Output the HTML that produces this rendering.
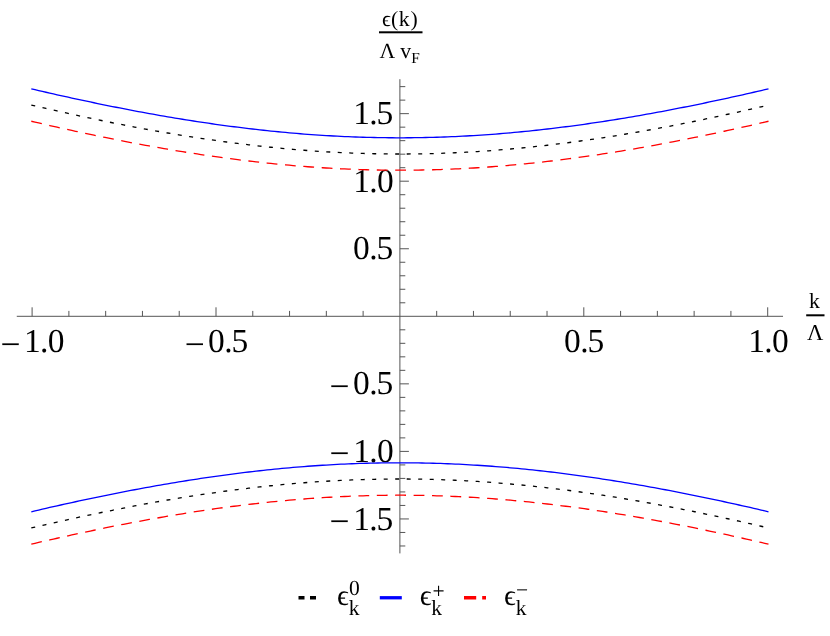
<!DOCTYPE html>
<html><head><meta charset="utf-8"><title>plot</title>
<style>
html,body{margin:0;padding:0;background:#fff;}
body{width:830px;height:636px;overflow:hidden;font-family:"Liberation Serif",serif;}
svg{display:block;will-change:transform;}
text{font-family:"Liberation Serif",serif;fill:#000;text-rendering:geometricPrecision;}
.tl{font-size:33.5px;}
.mn{font-size:35.5px;}
.lb{font-size:21.7px;}
.sc{font-size:15.4px;}
.lg{font-size:29px;}
.ls{font-size:21.5px;}
</style></head><body>
<svg width="830" height="636" viewBox="0 0 830 636">
<rect width="830" height="636" fill="#fff"/>

<g stroke="#555" stroke-width="1" fill="none">
<path d="M16.77 316.30 H783.03"/>
<path d="M399.90 79.20 V553.40"/>
<path d="M32.10 316.30v-9.00M68.88 316.30v-5.40M105.66 316.30v-5.40M142.44 316.30v-5.40M179.22 316.30v-5.40M216.00 316.30v-9.00M252.78 316.30v-5.40M289.56 316.30v-5.40M326.34 316.30v-5.40M363.12 316.30v-5.40M436.68 316.30v-5.40M473.46 316.30v-5.40M510.24 316.30v-5.40M547.02 316.30v-5.40M583.80 316.30v-9.00M620.58 316.30v-5.40M657.36 316.30v-5.40M694.14 316.30v-5.40M730.92 316.30v-5.40M767.70 316.30v-9.00M399.90 545.97h5.40M399.90 532.46h5.40M399.90 518.95h9.00M399.90 505.44h5.40M399.90 491.93h5.40M399.90 478.42h5.40M399.90 464.91h5.40M399.90 451.40h9.00M399.90 437.89h5.40M399.90 424.38h5.40M399.90 410.87h5.40M399.90 397.36h5.40M399.90 383.85h9.00M399.90 370.34h5.40M399.90 356.83h5.40M399.90 343.32h5.40M399.90 329.81h5.40M399.90 302.79h5.40M399.90 289.28h5.40M399.90 275.77h5.40M399.90 262.26h5.40M399.90 248.75h9.00M399.90 235.24h5.40M399.90 221.73h5.40M399.90 208.22h5.40M399.90 194.71h5.40M399.90 181.20h9.00M399.90 167.69h5.40M399.90 154.18h5.40M399.90 140.67h5.40M399.90 127.16h5.40M399.90 113.65h9.00M399.90 100.14h5.40M399.90 86.63h5.40"/>
</g>
<g class="tl">
<text class="mn" x="0.60" y="355.70">−</text><text x="24.00 40.00 47.75" y="352.30">1.0</text>
<text class="mn" x="184.70" y="355.70">−</text><text x="207.90 224.30 231.45" y="352.30">0.5</text>
<text x="563.90 580.30 587.45" y="352.30">0.5</text>
<text x="748.20 764.20 771.95" y="352.30">1.0</text>
<text x="353.30 369.30 376.45" y="124.25">1.5</text>
<text x="353.30 369.30 377.05" y="191.80">1.0</text>
<text x="352.90 369.30 376.45" y="259.35">0.5</text>
<text x="352.90 369.30 376.45" y="394.45">0.5</text>
<text class="mn" x="329.50" y="397.85">−</text>
<text x="353.30 369.30 377.05" y="462.00">1.0</text>
<text class="mn" x="329.50" y="465.40">−</text>
<text x="353.30 369.30 376.45" y="529.55">1.5</text>
<text class="mn" x="329.50" y="532.95">−</text>
</g>
<g class="lb">
<text x="382 391.1 398.7 410.5" y="25.5">ϵ(k)</text>
<rect x="379" y="31.3" width="43.5" height="2" fill="#000"/>
<text x="379.5" y="57.7">Λ</text><text x="400.3" y="57.7">v</text><text class="sc" x="411.3" y="62.5">F</text>
<text x="809" y="308">k</text>
<rect x="806.2" y="314.3" width="18.3" height="2" fill="#000"/>
<text x="806.9" y="340.3" style="font-size:22.6px">Λ</text>
</g>
<path d="M31.30,88.83 L34.99,89.69 L38.67,90.55 L42.36,91.40 L46.04,92.25 L49.73,93.09 L53.42,93.93 L57.10,94.76 L60.79,95.59 L64.47,96.41 L68.16,97.22 L71.85,98.03 L75.53,98.83 L79.22,99.63 L82.90,100.42 L86.59,101.20 L90.28,101.98 L93.96,102.76 L97.65,103.52 L101.33,104.28 L105.02,105.04 L108.71,105.78 L112.39,106.52 L116.08,107.26 L119.76,107.98 L123.45,108.70 L127.14,109.42 L130.82,110.12 L134.51,110.82 L138.19,111.52 L141.88,112.20 L145.57,112.88 L149.25,113.55 L152.94,114.21 L156.62,114.87 L160.31,115.52 L164.00,116.16 L167.68,116.79 L171.37,117.41 L175.05,118.03 L178.74,118.64 L182.43,119.24 L186.11,119.83 L189.80,120.42 L193.48,120.99 L197.17,121.56 L200.86,122.12 L204.54,122.67 L208.23,123.21 L211.91,123.75 L215.60,124.27 L219.29,124.79 L222.97,125.29 L226.66,125.79 L230.34,126.28 L234.03,126.76 L237.72,127.23 L241.40,127.69 L245.09,128.14 L248.77,128.58 L252.46,129.02 L256.15,129.44 L259.83,129.85 L263.52,130.25 L267.20,130.65 L270.89,131.03 L274.58,131.41 L278.26,131.77 L281.95,132.12 L285.63,132.47 L289.32,132.80 L293.01,133.12 L296.69,133.43 L300.38,133.74 L304.06,134.03 L307.75,134.31 L311.44,134.58 L315.12,134.84 L318.81,135.09 L322.49,135.33 L326.18,135.55 L329.87,135.77 L333.55,135.98 L337.24,136.17 L340.92,136.36 L344.61,136.53 L348.30,136.69 L351.98,136.84 L355.67,136.98 L359.35,137.11 L363.04,137.23 L366.73,137.34 L370.41,137.43 L374.10,137.52 L377.78,137.59 L381.47,137.65 L385.16,137.70 L388.84,137.74 L392.53,137.77 L396.21,137.79 L399.90,137.79 L403.59,137.79 L407.27,137.77 L410.96,137.74 L414.64,137.70 L418.33,137.65 L422.02,137.59 L425.70,137.52 L429.39,137.43 L433.07,137.34 L436.76,137.23 L440.45,137.11 L444.13,136.98 L447.82,136.84 L451.50,136.69 L455.19,136.53 L458.88,136.36 L462.56,136.17 L466.25,135.98 L469.93,135.77 L473.62,135.55 L477.31,135.33 L480.99,135.09 L484.68,134.84 L488.36,134.58 L492.05,134.31 L495.74,134.03 L499.42,133.74 L503.11,133.43 L506.79,133.12 L510.48,132.80 L514.17,132.47 L517.85,132.12 L521.54,131.77 L525.22,131.41 L528.91,131.03 L532.60,130.65 L536.28,130.25 L539.97,129.85 L543.65,129.44 L547.34,129.02 L551.03,128.58 L554.71,128.14 L558.40,127.69 L562.08,127.23 L565.77,126.76 L569.46,126.28 L573.14,125.79 L576.83,125.29 L580.51,124.79 L584.20,124.27 L587.89,123.75 L591.57,123.21 L595.26,122.67 L598.94,122.12 L602.63,121.56 L606.32,120.99 L610.00,120.42 L613.69,119.83 L617.37,119.24 L621.06,118.64 L624.75,118.03 L628.43,117.41 L632.12,116.79 L635.80,116.16 L639.49,115.52 L643.18,114.87 L646.86,114.21 L650.55,113.55 L654.23,112.88 L657.92,112.20 L661.61,111.52 L665.29,110.82 L668.98,110.12 L672.66,109.42 L676.35,108.70 L680.04,107.98 L683.72,107.26 L687.41,106.52 L691.09,105.78 L694.78,105.04 L698.47,104.28 L702.15,103.52 L705.84,102.76 L709.52,101.98 L713.21,101.20 L716.90,100.42 L720.58,99.63 L724.27,98.83 L727.95,98.03 L731.64,97.22 L735.33,96.41 L739.01,95.59 L742.70,94.76 L746.38,93.93 L750.07,93.09 L753.76,92.25 L757.44,91.40 L761.13,90.55 L764.81,89.69 L768.50,88.83" fill="none" stroke="#0000ff" stroke-width="1.3"/>
<path d="M31.30,105.04 L34.99,105.90 L38.67,106.76 L42.36,107.61 L46.04,108.46 L49.73,109.30 L53.42,110.14 L57.10,110.97 L60.79,111.80 L64.47,112.62 L68.16,113.43 L71.85,114.24 L75.53,115.04 L79.22,115.84 L82.90,116.63 L86.59,117.42 L90.28,118.20 L93.96,118.97 L97.65,119.73 L101.33,120.49 L105.02,121.25 L108.71,121.99 L112.39,122.74 L116.08,123.47 L119.76,124.20 L123.45,124.92 L127.14,125.63 L130.82,126.34 L134.51,127.04 L138.19,127.73 L141.88,128.41 L145.57,129.09 L149.25,129.76 L152.94,130.42 L156.62,131.08 L160.31,131.73 L164.00,132.37 L167.68,133.00 L171.37,133.63 L175.05,134.24 L178.74,134.85 L182.43,135.45 L186.11,136.04 L189.80,136.63 L193.48,137.21 L197.17,137.77 L200.86,138.33 L204.54,138.88 L208.23,139.42 L211.91,139.96 L215.60,140.48 L219.29,141.00 L222.97,141.50 L226.66,142.00 L230.34,142.49 L234.03,142.97 L237.72,143.44 L241.40,143.90 L245.09,144.35 L248.77,144.80 L252.46,145.23 L256.15,145.65 L259.83,146.06 L263.52,146.47 L267.20,146.86 L270.89,147.24 L274.58,147.62 L278.26,147.98 L281.95,148.33 L285.63,148.68 L289.32,149.01 L293.01,149.33 L296.69,149.65 L300.38,149.95 L304.06,150.24 L307.75,150.52 L311.44,150.79 L315.12,151.05 L318.81,151.30 L322.49,151.54 L326.18,151.77 L329.87,151.98 L333.55,152.19 L337.24,152.38 L340.92,152.57 L344.61,152.74 L348.30,152.90 L351.98,153.06 L355.67,153.20 L359.35,153.32 L363.04,153.44 L366.73,153.55 L370.41,153.64 L374.10,153.73 L377.78,153.80 L381.47,153.86 L385.16,153.91 L388.84,153.95 L392.53,153.98 L396.21,154.00 L399.90,154.00 L403.59,154.00 L407.27,153.98 L410.96,153.95 L414.64,153.91 L418.33,153.86 L422.02,153.80 L425.70,153.73 L429.39,153.64 L433.07,153.55 L436.76,153.44 L440.45,153.32 L444.13,153.20 L447.82,153.06 L451.50,152.90 L455.19,152.74 L458.88,152.57 L462.56,152.38 L466.25,152.19 L469.93,151.98 L473.62,151.77 L477.31,151.54 L480.99,151.30 L484.68,151.05 L488.36,150.79 L492.05,150.52 L495.74,150.24 L499.42,149.95 L503.11,149.65 L506.79,149.33 L510.48,149.01 L514.17,148.68 L517.85,148.33 L521.54,147.98 L525.22,147.62 L528.91,147.24 L532.60,146.86 L536.28,146.47 L539.97,146.06 L543.65,145.65 L547.34,145.23 L551.03,144.80 L554.71,144.35 L558.40,143.90 L562.08,143.44 L565.77,142.97 L569.46,142.49 L573.14,142.00 L576.83,141.50 L580.51,141.00 L584.20,140.48 L587.89,139.96 L591.57,139.42 L595.26,138.88 L598.94,138.33 L602.63,137.77 L606.32,137.21 L610.00,136.63 L613.69,136.04 L617.37,135.45 L621.06,134.85 L624.75,134.24 L628.43,133.63 L632.12,133.00 L635.80,132.37 L639.49,131.73 L643.18,131.08 L646.86,130.42 L650.55,129.76 L654.23,129.09 L657.92,128.41 L661.61,127.73 L665.29,127.04 L668.98,126.34 L672.66,125.63 L676.35,124.92 L680.04,124.20 L683.72,123.47 L687.41,122.74 L691.09,121.99 L694.78,121.25 L698.47,120.49 L702.15,119.73 L705.84,118.97 L709.52,118.20 L713.21,117.42 L716.90,116.63 L720.58,115.84 L724.27,115.04 L727.95,114.24 L731.64,113.43 L735.33,112.62 L739.01,111.80 L742.70,110.97 L746.38,110.14 L750.07,109.30 L753.76,108.46 L757.44,107.61 L761.13,106.76 L764.81,105.90 L768.50,105.04" fill="none" stroke="#000000" stroke-width="1.3" stroke-dasharray="4 7.5"/>
<path d="M31.30,121.25 L34.99,122.11 L38.67,122.97 L42.36,123.82 L46.04,124.67 L49.73,125.51 L53.42,126.35 L57.10,127.18 L60.79,128.01 L64.47,128.83 L68.16,129.64 L71.85,130.45 L75.53,131.26 L79.22,132.05 L82.90,132.84 L86.59,133.63 L90.28,134.41 L93.96,135.18 L97.65,135.95 L101.33,136.71 L105.02,137.46 L108.71,138.21 L112.39,138.95 L116.08,139.68 L119.76,140.41 L123.45,141.13 L127.14,141.84 L130.82,142.55 L134.51,143.25 L138.19,143.94 L141.88,144.62 L145.57,145.30 L149.25,145.97 L152.94,146.64 L156.62,147.29 L160.31,147.94 L164.00,148.58 L167.68,149.21 L171.37,149.84 L175.05,150.45 L178.74,151.06 L182.43,151.66 L186.11,152.26 L189.80,152.84 L193.48,153.42 L197.17,153.98 L200.86,154.54 L204.54,155.09 L208.23,155.64 L211.91,156.17 L215.60,156.69 L219.29,157.21 L222.97,157.72 L226.66,158.21 L230.34,158.70 L234.03,159.18 L237.72,159.65 L241.40,160.11 L245.09,160.57 L248.77,161.01 L252.46,161.44 L256.15,161.86 L259.83,162.28 L263.52,162.68 L267.20,163.07 L270.89,163.46 L274.58,163.83 L278.26,164.19 L281.95,164.55 L285.63,164.89 L289.32,165.22 L293.01,165.55 L296.69,165.86 L300.38,166.16 L304.06,166.45 L307.75,166.73 L311.44,167.00 L315.12,167.26 L318.81,167.51 L322.49,167.75 L326.18,167.98 L329.87,168.20 L333.55,168.40 L337.24,168.60 L340.92,168.78 L344.61,168.95 L348.30,169.12 L351.98,169.27 L355.67,169.41 L359.35,169.54 L363.04,169.65 L366.73,169.76 L370.41,169.86 L374.10,169.94 L377.78,170.01 L381.47,170.08 L385.16,170.13 L388.84,170.17 L392.53,170.19 L396.21,170.21 L399.90,170.22 L403.59,170.21 L407.27,170.19 L410.96,170.17 L414.64,170.13 L418.33,170.08 L422.02,170.01 L425.70,169.94 L429.39,169.86 L433.07,169.76 L436.76,169.65 L440.45,169.54 L444.13,169.41 L447.82,169.27 L451.50,169.12 L455.19,168.95 L458.88,168.78 L462.56,168.60 L466.25,168.40 L469.93,168.20 L473.62,167.98 L477.31,167.75 L480.99,167.51 L484.68,167.26 L488.36,167.00 L492.05,166.73 L495.74,166.45 L499.42,166.16 L503.11,165.86 L506.79,165.55 L510.48,165.22 L514.17,164.89 L517.85,164.55 L521.54,164.19 L525.22,163.83 L528.91,163.46 L532.60,163.07 L536.28,162.68 L539.97,162.28 L543.65,161.86 L547.34,161.44 L551.03,161.01 L554.71,160.57 L558.40,160.11 L562.08,159.65 L565.77,159.18 L569.46,158.70 L573.14,158.21 L576.83,157.72 L580.51,157.21 L584.20,156.69 L587.89,156.17 L591.57,155.64 L595.26,155.09 L598.94,154.54 L602.63,153.98 L606.32,153.42 L610.00,152.84 L613.69,152.26 L617.37,151.66 L621.06,151.06 L624.75,150.45 L628.43,149.84 L632.12,149.21 L635.80,148.58 L639.49,147.94 L643.18,147.29 L646.86,146.64 L650.55,145.97 L654.23,145.30 L657.92,144.62 L661.61,143.94 L665.29,143.25 L668.98,142.55 L672.66,141.84 L676.35,141.13 L680.04,140.41 L683.72,139.68 L687.41,138.95 L691.09,138.21 L694.78,137.46 L698.47,136.71 L702.15,135.95 L705.84,135.18 L709.52,134.41 L713.21,133.63 L716.90,132.84 L720.58,132.05 L724.27,131.26 L727.95,130.45 L731.64,129.64 L735.33,128.83 L739.01,128.01 L742.70,127.18 L746.38,126.35 L750.07,125.51 L753.76,124.67 L757.44,123.82 L761.13,122.97 L764.81,122.11 L768.50,121.25" fill="none" stroke="#ff0000" stroke-width="1.3" stroke-dasharray="10.8 7.6"/>
<path d="M31.30,511.76 L34.99,510.89 L38.67,510.03 L42.36,509.18 L46.04,508.33 L49.73,507.49 L53.42,506.65 L57.10,505.82 L60.79,505.00 L64.47,504.18 L68.16,503.36 L71.85,502.55 L75.53,501.75 L79.22,500.95 L82.90,500.16 L86.59,499.38 L90.28,498.60 L93.96,497.83 L97.65,497.06 L101.33,496.30 L105.02,495.55 L108.71,494.80 L112.39,494.06 L116.08,493.32 L119.76,492.60 L123.45,491.88 L127.14,491.16 L130.82,490.46 L134.51,489.76 L138.19,489.07 L141.88,488.38 L145.57,487.70 L149.25,487.03 L152.94,486.37 L156.62,485.71 L160.31,485.07 L164.00,484.43 L167.68,483.79 L171.37,483.17 L175.05,482.55 L178.74,481.94 L182.43,481.34 L186.11,480.75 L189.80,480.16 L193.48,479.59 L197.17,479.02 L200.86,478.46 L204.54,477.91 L208.23,477.37 L211.91,476.84 L215.60,476.31 L219.29,475.80 L222.97,475.29 L226.66,474.79 L230.34,474.30 L234.03,473.82 L237.72,473.35 L241.40,472.89 L245.09,472.44 L248.77,472.00 L252.46,471.57 L256.15,471.14 L259.83,470.73 L263.52,470.33 L267.20,469.93 L270.89,469.55 L274.58,469.18 L278.26,468.81 L281.95,468.46 L285.63,468.12 L289.32,467.78 L293.01,467.46 L296.69,467.15 L300.38,466.85 L304.06,466.55 L307.75,466.27 L311.44,466.00 L315.12,465.74 L318.81,465.49 L322.49,465.25 L326.18,465.03 L329.87,464.81 L333.55,464.60 L337.24,464.41 L340.92,464.22 L344.61,464.05 L348.30,463.89 L351.98,463.74 L355.67,463.60 L359.35,463.47 L363.04,463.35 L366.73,463.24 L370.41,463.15 L374.10,463.06 L377.78,462.99 L381.47,462.93 L385.16,462.88 L388.84,462.84 L392.53,462.81 L396.21,462.79 L399.90,462.79 L403.59,462.79 L407.27,462.81 L410.96,462.84 L414.64,462.88 L418.33,462.93 L422.02,462.99 L425.70,463.06 L429.39,463.15 L433.07,463.24 L436.76,463.35 L440.45,463.47 L444.13,463.60 L447.82,463.74 L451.50,463.89 L455.19,464.05 L458.88,464.22 L462.56,464.41 L466.25,464.60 L469.93,464.81 L473.62,465.03 L477.31,465.25 L480.99,465.49 L484.68,465.74 L488.36,466.00 L492.05,466.27 L495.74,466.55 L499.42,466.85 L503.11,467.15 L506.79,467.46 L510.48,467.78 L514.17,468.12 L517.85,468.46 L521.54,468.81 L525.22,469.18 L528.91,469.55 L532.60,469.93 L536.28,470.33 L539.97,470.73 L543.65,471.14 L547.34,471.57 L551.03,472.00 L554.71,472.44 L558.40,472.89 L562.08,473.35 L565.77,473.82 L569.46,474.30 L573.14,474.79 L576.83,475.29 L580.51,475.80 L584.20,476.31 L587.89,476.84 L591.57,477.37 L595.26,477.91 L598.94,478.46 L602.63,479.02 L606.32,479.59 L610.00,480.16 L613.69,480.75 L617.37,481.34 L621.06,481.94 L624.75,482.55 L628.43,483.17 L632.12,483.79 L635.80,484.43 L639.49,485.07 L643.18,485.71 L646.86,486.37 L650.55,487.03 L654.23,487.70 L657.92,488.38 L661.61,489.07 L665.29,489.76 L668.98,490.46 L672.66,491.16 L676.35,491.88 L680.04,492.60 L683.72,493.32 L687.41,494.06 L691.09,494.80 L694.78,495.55 L698.47,496.30 L702.15,497.06 L705.84,497.83 L709.52,498.60 L713.21,499.38 L716.90,500.16 L720.58,500.95 L724.27,501.75 L727.95,502.55 L731.64,503.36 L735.33,504.18 L739.01,505.00 L742.70,505.82 L746.38,506.65 L750.07,507.49 L753.76,508.33 L757.44,509.18 L761.13,510.03 L764.81,510.89 L768.50,511.76" fill="none" stroke="#0000ff" stroke-width="1.3"/>
<path d="M31.30,527.97 L34.99,527.10 L38.67,526.25 L42.36,525.39 L46.04,524.54 L49.73,523.70 L53.42,522.87 L57.10,522.03 L60.79,521.21 L64.47,520.39 L68.16,519.57 L71.85,518.76 L75.53,517.96 L79.22,517.16 L82.90,516.37 L86.59,515.59 L90.28,514.81 L93.96,514.04 L97.65,513.27 L101.33,512.51 L105.02,511.76 L108.71,511.01 L112.39,510.27 L116.08,509.54 L119.76,508.81 L123.45,508.09 L127.14,507.38 L130.82,506.67 L134.51,505.97 L138.19,505.28 L141.88,504.59 L145.57,503.91 L149.25,503.24 L152.94,502.58 L156.62,501.93 L160.31,501.28 L164.00,500.64 L167.68,500.00 L171.37,499.38 L175.05,498.76 L178.74,498.15 L182.43,497.55 L186.11,496.96 L189.80,496.38 L193.48,495.80 L197.17,495.23 L200.86,494.67 L204.54,494.12 L208.23,493.58 L211.91,493.05 L215.60,492.52 L219.29,492.01 L222.97,491.50 L226.66,491.00 L230.34,490.51 L234.03,490.03 L237.72,489.56 L241.40,489.10 L245.09,488.65 L248.77,488.21 L252.46,487.78 L256.15,487.36 L259.83,486.94 L263.52,486.54 L267.20,486.15 L270.89,485.76 L274.58,485.39 L278.26,485.02 L281.95,484.67 L285.63,484.33 L289.32,483.99 L293.01,483.67 L296.69,483.36 L300.38,483.06 L304.06,482.77 L307.75,482.48 L311.44,482.21 L315.12,481.95 L318.81,481.71 L322.49,481.47 L326.18,481.24 L329.87,481.02 L333.55,480.82 L337.24,480.62 L340.92,480.44 L344.61,480.26 L348.30,480.10 L351.98,479.95 L355.67,479.81 L359.35,479.68 L363.04,479.56 L366.73,479.46 L370.41,479.36 L374.10,479.28 L377.78,479.20 L381.47,479.14 L385.16,479.09 L388.84,479.05 L392.53,479.02 L396.21,479.01 L399.90,479.00 L403.59,479.01 L407.27,479.02 L410.96,479.05 L414.64,479.09 L418.33,479.14 L422.02,479.20 L425.70,479.28 L429.39,479.36 L433.07,479.46 L436.76,479.56 L440.45,479.68 L444.13,479.81 L447.82,479.95 L451.50,480.10 L455.19,480.26 L458.88,480.44 L462.56,480.62 L466.25,480.82 L469.93,481.02 L473.62,481.24 L477.31,481.47 L480.99,481.71 L484.68,481.95 L488.36,482.21 L492.05,482.48 L495.74,482.77 L499.42,483.06 L503.11,483.36 L506.79,483.67 L510.48,483.99 L514.17,484.33 L517.85,484.67 L521.54,485.02 L525.22,485.39 L528.91,485.76 L532.60,486.15 L536.28,486.54 L539.97,486.94 L543.65,487.36 L547.34,487.78 L551.03,488.21 L554.71,488.65 L558.40,489.10 L562.08,489.56 L565.77,490.03 L569.46,490.51 L573.14,491.00 L576.83,491.50 L580.51,492.01 L584.20,492.52 L587.89,493.05 L591.57,493.58 L595.26,494.12 L598.94,494.67 L602.63,495.23 L606.32,495.80 L610.00,496.38 L613.69,496.96 L617.37,497.55 L621.06,498.15 L624.75,498.76 L628.43,499.38 L632.12,500.00 L635.80,500.64 L639.49,501.28 L643.18,501.93 L646.86,502.58 L650.55,503.24 L654.23,503.91 L657.92,504.59 L661.61,505.28 L665.29,505.97 L668.98,506.67 L672.66,507.38 L676.35,508.09 L680.04,508.81 L683.72,509.54 L687.41,510.27 L691.09,511.01 L694.78,511.76 L698.47,512.51 L702.15,513.27 L705.84,514.04 L709.52,514.81 L713.21,515.59 L716.90,516.37 L720.58,517.16 L724.27,517.96 L727.95,518.76 L731.64,519.57 L735.33,520.39 L739.01,521.21 L742.70,522.03 L746.38,522.87 L750.07,523.70 L753.76,524.54 L757.44,525.39 L761.13,526.25 L764.81,527.10 L768.50,527.97" fill="none" stroke="#000000" stroke-width="1.3" stroke-dasharray="4 7.5"/>
<path d="M31.30,544.18 L34.99,543.32 L38.67,542.46 L42.36,541.60 L46.04,540.76 L49.73,539.91 L53.42,539.08 L57.10,538.25 L60.79,537.42 L64.47,536.60 L68.16,535.79 L71.85,534.98 L75.53,534.17 L79.22,533.38 L82.90,532.59 L86.59,531.80 L90.28,531.02 L93.96,530.25 L97.65,529.48 L101.33,528.72 L105.02,527.97 L108.71,527.22 L112.39,526.48 L116.08,525.75 L119.76,525.02 L123.45,524.30 L127.14,523.59 L130.82,522.88 L134.51,522.18 L138.19,521.49 L141.88,520.80 L145.57,520.13 L149.25,519.46 L152.94,518.79 L156.62,518.14 L160.31,517.49 L164.00,516.85 L167.68,516.22 L171.37,515.59 L175.05,514.97 L178.74,514.37 L182.43,513.77 L186.11,513.17 L189.80,512.59 L193.48,512.01 L197.17,511.44 L200.86,510.89 L204.54,510.33 L208.23,509.79 L211.91,509.26 L215.60,508.73 L219.29,508.22 L222.97,507.71 L226.66,507.21 L230.34,506.73 L234.03,506.25 L237.72,505.78 L241.40,505.32 L245.09,504.86 L248.77,504.42 L252.46,503.99 L256.15,503.57 L259.83,503.15 L263.52,502.75 L267.20,502.36 L270.89,501.97 L274.58,501.60 L278.26,501.24 L281.95,500.88 L285.63,500.54 L289.32,500.21 L293.01,499.88 L296.69,499.57 L300.38,499.27 L304.06,498.98 L307.75,498.70 L311.44,498.43 L315.12,498.17 L318.81,497.92 L322.49,497.68 L326.18,497.45 L329.87,497.23 L333.55,497.03 L337.24,496.83 L340.92,496.65 L344.61,496.48 L348.30,496.31 L351.98,496.16 L355.67,496.02 L359.35,495.89 L363.04,495.78 L366.73,495.67 L370.41,495.57 L374.10,495.49 L377.78,495.42 L381.47,495.35 L385.16,495.30 L388.84,495.26 L392.53,495.24 L396.21,495.22 L399.90,495.21 L403.59,495.22 L407.27,495.24 L410.96,495.26 L414.64,495.30 L418.33,495.35 L422.02,495.42 L425.70,495.49 L429.39,495.57 L433.07,495.67 L436.76,495.78 L440.45,495.89 L444.13,496.02 L447.82,496.16 L451.50,496.31 L455.19,496.48 L458.88,496.65 L462.56,496.83 L466.25,497.03 L469.93,497.23 L473.62,497.45 L477.31,497.68 L480.99,497.92 L484.68,498.17 L488.36,498.43 L492.05,498.70 L495.74,498.98 L499.42,499.27 L503.11,499.57 L506.79,499.88 L510.48,500.21 L514.17,500.54 L517.85,500.88 L521.54,501.24 L525.22,501.60 L528.91,501.97 L532.60,502.36 L536.28,502.75 L539.97,503.15 L543.65,503.57 L547.34,503.99 L551.03,504.42 L554.71,504.86 L558.40,505.32 L562.08,505.78 L565.77,506.25 L569.46,506.73 L573.14,507.21 L576.83,507.71 L580.51,508.22 L584.20,508.73 L587.89,509.26 L591.57,509.79 L595.26,510.33 L598.94,510.89 L602.63,511.44 L606.32,512.01 L610.00,512.59 L613.69,513.17 L617.37,513.77 L621.06,514.37 L624.75,514.97 L628.43,515.59 L632.12,516.22 L635.80,516.85 L639.49,517.49 L643.18,518.14 L646.86,518.79 L650.55,519.46 L654.23,520.13 L657.92,520.80 L661.61,521.49 L665.29,522.18 L668.98,522.88 L672.66,523.59 L676.35,524.30 L680.04,525.02 L683.72,525.75 L687.41,526.48 L691.09,527.22 L694.78,527.97 L698.47,528.72 L702.15,529.48 L705.84,530.25 L709.52,531.02 L713.21,531.80 L716.90,532.59 L720.58,533.38 L724.27,534.17 L727.95,534.98 L731.64,535.79 L735.33,536.60 L739.01,537.42 L742.70,538.25 L746.38,539.08 L750.07,539.91 L753.76,540.76 L757.44,541.60 L761.13,542.46 L764.81,543.32 L768.50,544.18" fill="none" stroke="#ff0000" stroke-width="1.3" stroke-dasharray="10.8 7.6"/>
<g stroke-width="3.3" fill="none">
<path d="M298.5 597.75h6M310 597.75h6" stroke="#000"/>
<path d="M379.8 597.75h22" stroke="#00f"/>
<path d="M464 597.75h12.2M482.2 597.75h3.8" stroke="#f00"/>
</g>
<text class="lg" x="337.0" y="605.4">ϵ</text>
<text class="ls" x="349.0" y="595.4">0</text>
<text class="ls" x="348.8" y="614.5">k</text>
<text class="lg" x="419.8" y="605.4">ϵ</text>
<text class="ls" x="432.4" y="597.9">+</text>
<text class="ls" x="431.3" y="614.5">k</text>
<text class="lg" x="504.0" y="605.4">ϵ</text>
<text class="ls" x="516.0" y="597.4">−</text>
<text class="ls" x="515.8" y="614.5">k</text>
</svg></body></html>
